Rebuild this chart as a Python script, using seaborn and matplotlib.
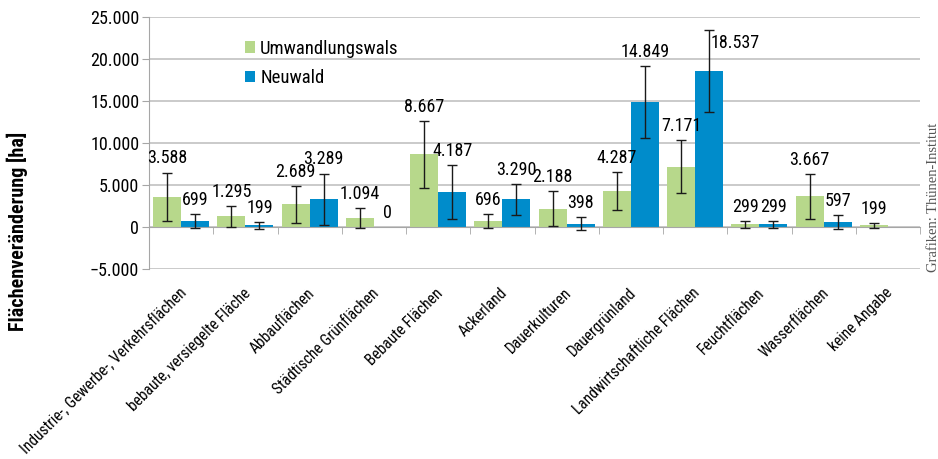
import numpy as np
import pandas as pd
import matplotlib.pyplot as plt
import matplotlib.ticker as mticker
import matplotlib.transforms as mtransforms
from matplotlib import font_manager
import seaborn as sns

# pick a narrow sans if one is installed
installed = {f.name for f in font_manager.fontManager.ttflist}
narrow = [n for n in ["Liberation Sans Narrow", "Roboto Condensed", "Arial Narrow",
                      "Open Sans Condensed", "Noto Sans Condensed", "DejaVu Sans Condensed"]
          if n in installed]
base = narrow[0] if narrow else "Liberation Sans"
plt.rcParams['font.family'] = [base, 'DejaVu Sans']

# data (ha)
categories = ["Industrie-, Gewerbe-, Verkehrsflächen", "bebaute, versiegelte Fläche",
              "Abbauflächen", "Städtische Grünflächen", "Bebaute Flächen", "Ackerland",
              "Dauerkulturen", "Dauergrünland", "Landwirtschaftliche Flächen",
              "Feuchtflächen", "Wasserflächen", "keine Angabe"]
series = ["Umwandlungswals", "Neuwald"]
umwandlung = [3588, 1295, 2689, 1094, 8667, 696, 2188, 4287, 7171, 299, 3667, 199]
umwandlung_err = [2900, 1250, 2170, 1160, 4000, 820, 2090, 2220, 3160, 400, 2690, 300]
neuwald = [699, 199, 3289, 0, 4187, 3290, 398, 14849, 18537, 299, 597, np.nan]
neuwald_err = [850, 400, 3080, 0, 3230, 1880, 770, 4290, 4870, 400, 800, 0]
colors = ["#b7d88b", "#008ccb"]

df = pd.DataFrame({
    "Kategorie": categories * 2,
    "Serie": [series[0]] * len(categories) + [series[1]] * len(categories),
    "Wert": umwandlung + neuwald,
})

def fmt(v):
    return f"{v:,.0f}".replace(",", ".").replace("-", "\u2212")

scale = 1.0 if narrow else 0.86
fs_num = 13 * scale
fs_cat = 11.2 * scale

fig = plt.figure(figsize=(9.38, 4.59), dpi=100)
ax = fig.add_axes([149 / 938, 1 - 269 / 459, 771 / 938, 252 / 459])

width = 0.875
sns.barplot(data=df, x="Kategorie", y="Wert", hue="Serie", palette=colors,
            width=width, errorbar=None, saturation=1, ax=ax)

ymin, ymax = -5000, 25000
bw = width / 2
for j, (vals, errs) in enumerate([(umwandlung, umwandlung_err), (neuwald, neuwald_err)]):
    vals = np.array(vals, dtype=float)
    errs = np.array(errs, dtype=float)
    xs = np.arange(len(categories)) + (j - 0.5) * bw
    m = (errs > 0) & ~np.isnan(vals)
    ax.errorbar(xs[m], vals[m], yerr=errs[m], fmt="none", ecolor="#1a1a1a",
                elinewidth=1, capsize=3.5, capthick=1, zorder=4)
    for x, v, e in zip(xs, vals, errs):
        if np.isnan(v):
            continue
        top = v + e + 600
        if top + 1700 > ymax:
            ax.text(x + 0.02, v + 0.69 * e, fmt(v), ha="left", va="center", fontsize=fs_num)
        else:
            ax.text(x, top, fmt(v), ha="center", va="bottom", fontsize=fs_num)

ax.set_ylim(ymin, ymax)
ax.set_xlim(-0.5, len(categories) - 0.5)
ax.set_yticks(range(ymin, ymax + 1, 5000))
ax.yaxis.set_major_formatter(mticker.FuncFormatter(lambda v, _: fmt(v)))
ax.tick_params(axis="y", labelsize=fs_num, length=5, color="#a6a6a6", pad=2)
ax.yaxis.grid(True, color="#c6c6c6", lw=1.3)
ax.set_axisbelow(True)

for s in ["top", "right"]:
    ax.spines[s].set_visible(False)
ax.spines["left"].set_color("#a6a6a6")
ax.spines["bottom"].set_color("#a6a6a6")
ax.spines["bottom"].set_position(("data", 0))
ax.spines["bottom"].set_zorder(3)

ax.set_xticks(np.arange(-0.5, len(categories), 1), minor=True)
ax.tick_params(axis="x", which="minor", length=5, color="#a6a6a6", direction="out")
ax.tick_params(axis="x", which="major", length=0, pad=42, labelsize=fs_cat)
shift = mtransforms.ScaledTranslation(-2 / 72, 0, fig.dpi_scale_trans)
for lab in ax.get_xticklabels():
    lab.set_rotation(45)
    lab.set_ha("right")
    lab.set_va("top")
    lab.set_rotation_mode("anchor")
    lab.set_transform(lab.get_transform() + shift)

ax.set_xlabel("")
ax.set_ylabel("")
fig.text(0.019, 0.497, "Flächenveränderung [ha]", rotation=90, ha="center", va="center",
         fontsize=14.5 * scale, fontweight="bold")
fig.text(0.9955, 0.57, "Grafiken: Thünen-Institut", rotation=90, ha="center", va="center",
         fontsize=10.5, color="#555555", family=["Liberation Serif", "DejaVu Serif"])

handles, labels = ax.get_legend_handles_labels()
ax.legend(handles, labels, loc="upper left", bbox_to_anchor=(0.115, 0.94), frameon=False,
          fontsize=13.5 * scale, handlelength=0.55, handleheight=0.55, handletextpad=0.25,
          labelspacing=0.6, borderaxespad=0)

fig.savefig("out.png", dpi=100)
